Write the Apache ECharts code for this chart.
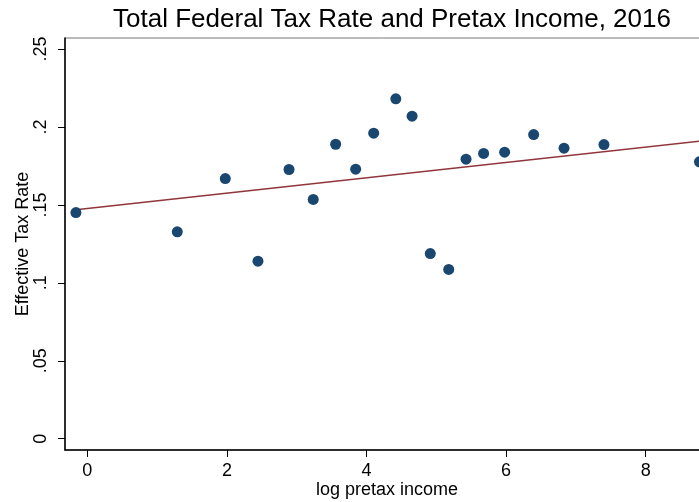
<!DOCTYPE html>
<html>
<head>
<meta charset="utf-8">
<script src="https://cdn.jsdelivr.net/npm/echarts@6/dist/echarts.min.js"></script>
<style>
  html, body { margin: 0; padding: 0; background: #fff; }
  #main { width: 699px; height: 502px; }
</style>
</head>
<body>
<div id="main"></div>
<script>
// log pretax income vs effective tax rate
var logIncome = [-0.163, 1.289, 1.977, 2.445, 2.89, 3.237, 3.558, 3.845, 4.103, 4.42,
                 4.653, 4.914, 5.178, 5.426, 5.678, 5.979, 6.395, 6.83, 7.402, 8.77];
var taxRate = [0.1451, 0.1327, 0.1669, 0.1139, 0.1727, 0.1535, 0.1889, 0.1729, 0.196, 0.218,
               0.2069, 0.1188, 0.1086, 0.1793, 0.183, 0.1838, 0.1951, 0.1864, 0.1887, 0.1776];
// linear fit endpoints
var fitX = [-0.163, 8.77];
var fitY = [0.1468, 0.1908];
var xTicks = [0, 2, 4, 6, 8];
var yTicks = [0, 0.05, 0.1, 0.15, 0.2, 0.25];

var points = logIncome.map(function (x, i) { return [x, taxRate[i]]; });
var fitLine = fitX.map(function (x, i) { return [x, fitY[i]]; });

var chartDom = document.getElementById('main');
var myChart = echarts.init(chartDom);
var option;
option = {
    animation: false,
    textStyle: { fontFamily: 'Liberation Sans, Arial, sans-serif' },
    title: {
        text: 'Total Federal Tax Rate and Pretax Income, 2016',
        left: 387,
        top: 2,
        textAlign: 'center',
        textStyle: { fontSize: 26, fontWeight: 'normal', color: '#000' }
    },
    grid: {
        left: 65,
        width: 644,
        top: 38,
        height: 412,
        outerBoundsMode: 'none',
        containLabel: false,
        show: true,
        borderColor: '#777',
        borderWidth: 1
    },
    xAxis: {
        type: 'value',
        min: -0.3195,
        max: 8.907,
        name: 'log pretax income',
        nameLocation: 'middle',
        nameGap: 31,
        nameMoveOverlap: false,
        nameTextStyle: { fontSize: 18, color: '#000' },
        axisLine: { onZero: false, lineStyle: { color: '#000', width: 1.5 } },
        axisTick: { length: 7, lineStyle: { color: '#000' }, customValues: xTicks },
        axisLabel: { fontSize: 18, color: '#000', margin: 12, customValues: xTicks },
        splitLine: { show: false }
    },
    yAxis: {
        type: 'value',
        min: -0.00724,
        max: 0.25705,
        name: 'Effective Tax Rate',
        nameLocation: 'middle',
        nameGap: 33,
        nameMoveOverlap: false,
        nameTextStyle: { fontSize: 18, color: '#000' },
        axisLine: { show: true, onZero: false, lineStyle: { color: '#000', width: 1.5 } },
        axisTick: { show: true, length: 7, lineStyle: { color: '#000' }, customValues: yTicks },
        axisLabel: {
            fontSize: 18,
            color: '#000',
            rotate: 90,
            margin: 15,
            customValues: yTicks,
            formatter: function (v) {
                return v === 0 ? '0' : String(v).replace(/^0/, '');
            }
        },
        splitLine: { show: false }
    },
    series: [
        {
            name: 'Effective Tax Rate',
            type: 'scatter',
            data: points,
            symbolSize: 11,
            itemStyle: { color: '#1a476f', opacity: 1 },
            z: 3
        },
        {
            name: 'Fitted values',
            type: 'line',
            data: fitLine,
            symbol: 'none',
            lineStyle: { color: '#90353b', width: 1.5 },
            z: 2
        }
    ]
};
option && myChart.setOption(option);
</script>
</body>
</html>
